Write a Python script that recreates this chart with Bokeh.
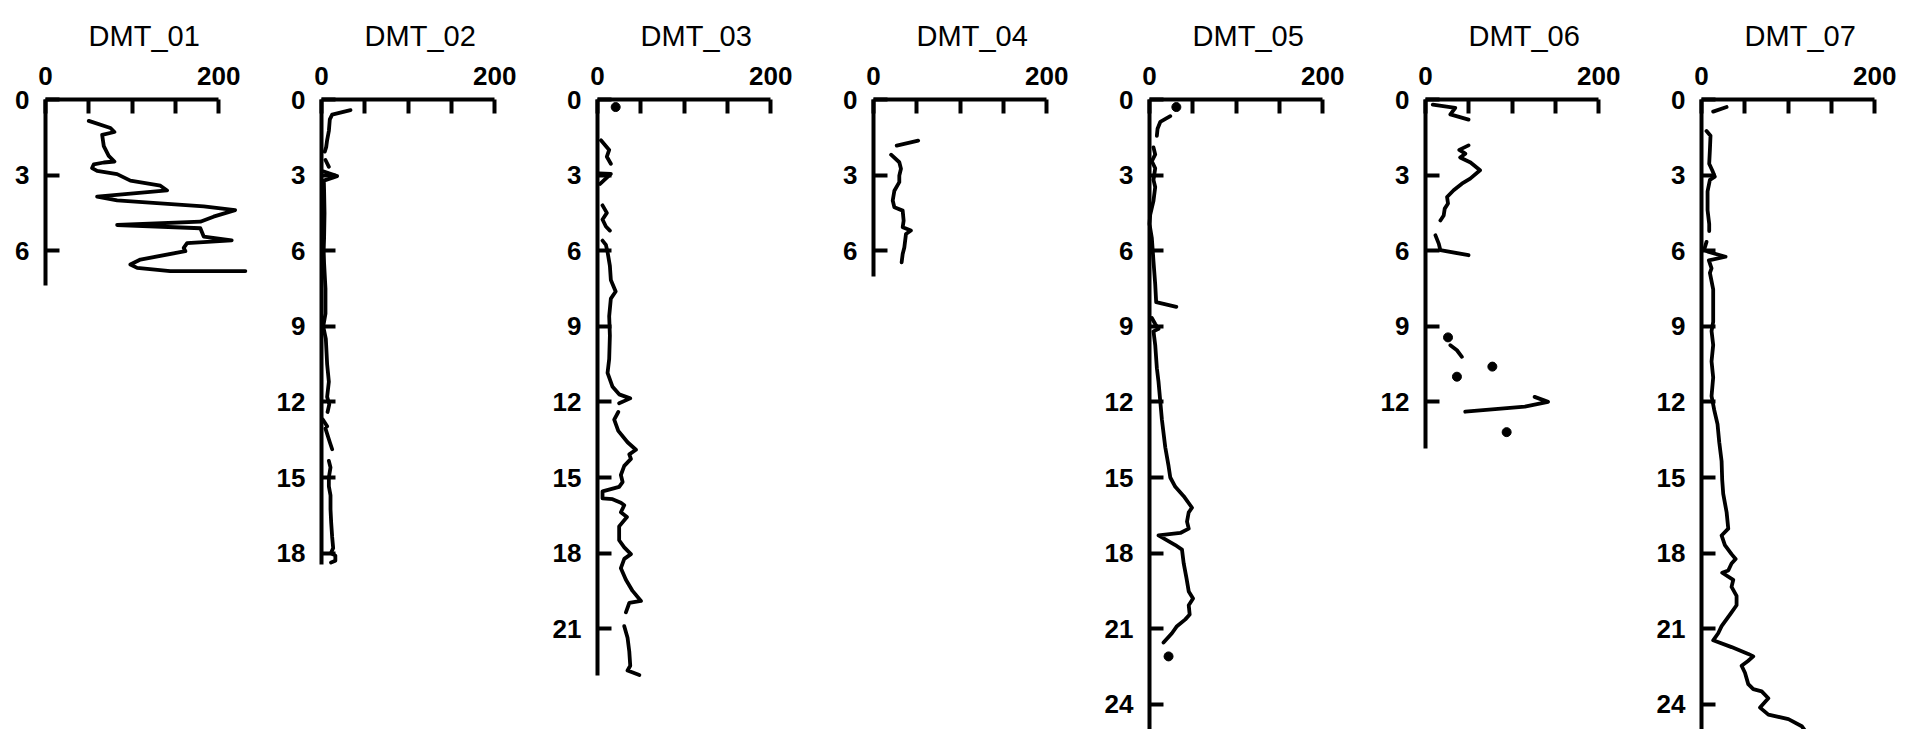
from bokeh.plotting import figure
from bokeh.models import Range1d, FixedTicker
from bokeh.layouts import row
from bokeh.core.properties import value
from bokeh.embed import file_html
from bokeh.resources import INLINE

nan = float("nan")

# ---------------- data ----------------
titles = ["DMT_01", "DMT_02", "DMT_03", "DMT_04", "DMT_05", "DMT_06", "DMT_07"]
x_ticks = [0, 50, 100, 150, 200]
x_tick_labels = {0: "0", 50: "", 100: "", 150: "", 200: "200"}
depth_ticks = [0, 3, 6, 9, 12, 15, 18, 21, 24]
axis_depth_max = [7.4, 18.46, 22.85, 7.03, 30.0, 13.84, 30.0]

depth_01 = [0.85, 1.13, 1.29, 1.40, 1.85, 2.24, 2.46, 2.50, 2.57, 2.72, 2.83, 2.96, 3.22, 3.42, 3.61,
            3.85, 4.00, 4.24, 4.39, 4.65, 4.85, 4.98, 5.11, 5.44, 5.59, 5.70, 5.89, 6.02, 6.35, 6.55,
            6.68, 6.81, 6.81]
value_01 = [50, 75, 79.6, 65.4, 67.3, 73, 79.6, 67.3, 55.8, 53.8, 59.6, 82.7, 98, 132.7, 140.4,
            59.6, 82.7, 182.7, 219, 194, 178.8, 82.7, 178.8, 182.7, 215, 163.5, 159.6, 161.5, 109.6, 98,
            105.8, 144, 230.8]
dots_depth_01 = []
dots_value_01 = []

depth_02 = [0.42, 0.6, 0.79, 1.25, 1.61, 1.89, 2.07, nan,
            2.4, 2.67, nan,
            2.86, 3.04, 3.22, 3.6, 4.5, 5.5, 6.0, 6.5, 7.5, 8.5, 9.0, 9.5, 10.5, 11.2, 11.8, 12.1, 12.4, nan,
            12.7, 12.97, nan,
            13.06, 13.6, 13.88, nan,
            14.34, 14.6, 15.0, 15.35, 15.71, 16.26, 16.8, 17.36, 17.8, 18.0, 18.1, 18.3, 18.37]
value_02 = [33.5, 12.3, 9.6, 8.5, 6.5, 5.4, 3.8, nan,
            4.6, 8.5, nan,
            2.7, 18, 2.7, 3, 3.5, 3, 2.5, 3, 4.6, 4.6, 2, 5, 6.5, 8.5, 6.5, 9, 7, nan,
            1.5, 6.5, nan,
            4.6, 9.6, 12.3, nan,
            8.5, 10.4, 8.5, 8.5, 10.4, 10.4, 11.2, 12.3, 13.5, 11, 16, 16, 11]
dots_depth_02 = []
dots_value_02 = []

depth_03 = [1.62, 2.0, 2.27, 2.55, nan,
            2.93, 2.95, 3.35, nan,
            4.2, 4.5, 4.76, 5.04, 5.2, nan,
            5.6, 5.77, 6.05, 6.6, 7.16, 7.62, 7.9, 8.6, 9.37, 10.3, 10.85, 11.4, 11.7, 11.86, 12.05, nan,
            12.4, 12.7, 13.15, 13.6, 13.9, 14.08, 14.26, 14.54, 14.9, 15.18, 15.37, 15.55, 15.83, 15.86,
            16.0, 16.1, 16.38, 16.57, 16.94, 17.49, 17.77, 18.04, 18.23, 18.6, 19.06, 19.5, 19.9, 19.98,
            20.35, nan,
            20.9, 21.36, 21.9, 22.47, 22.66, 22.84]
value_03 = [4, 13.5, 10.8, 15.4, nan,
            2, 15.4, 3, nan,
            5.8, 10.8, 5.8, 9.7, 14.3, nan,
            5.8, 9.7, 11.6, 14.3, 15.4, 21, 15.4, 13.5, 14.3, 13.5, 11.6, 17.4, 25, 37.8, 25, nan,
            24, 19.3, 24, 34.7, 44.4, 36.7, 38.6, 30.9, 27, 29, 25, 5.8, 5.8, 17.4,
            27, 30.9, 27, 34, 25, 25, 30.9, 38.6, 30.9, 27, 32.8, 40.5, 50.2, 36.7,
            32.8, nan,
            30.9, 34.7, 36.7, 37.8, 34.7, 48.3]
dots_depth_03 = [0.3]
dots_value_03 = [21]

depth_04 = [1.63, 1.83, nan,
            2.19, 2.49, 2.75, 3.02, 3.28, 3.62, 4.01, 4.28, 4.41, 4.81, 5.07, 5.2, 5.34, 5.87, 6.13, 6.46]
value_04 = [51.6, 26.8, nan,
            20.3, 29.8, 31.7, 29.8, 29.8, 24.1, 22.2, 24.1, 33.7, 34.8, 33.7, 43.2, 37.5, 35.6, 33.7, 32.5]
dots_depth_04 = []
dots_value_04 = []

depth_05 = [0.66, 0.89, 1.16, 1.44, nan,
            1.9, 2.18, 2.45, 2.73, 3.19, 3.47, 4.02, 4.58, 4.94, 5.5, 6.42, 7.34, 8.04, 8.23, nan,
            8.67, 8.91, 9.1, 9.2, 9.74, 10.66, 11.2, 11.96, 12.7, 13.8, 14.54, 15.0, 15.37, 15.74, 16.2,
            16.38, 16.75, 17.03, 17.2, 17.3, 17.68, 17.86, 18.41, 18.97, 19.52, 19.8, 20.07, 20.44, 20.63,
            20.9, 21.18, 21.55]
value_05 = [24, 12.4, 9.3, 8.5, nan,
            4.6, 6.6, 2.7, 6.6, 4.6, 6.6, 4.6, 0.8, 0, 2.7, 4.6, 6.6, 7.7, 31, nan,
            2.7, 6.6, 10.4, 4.6, 6.6, 8.5, 10.4, 12.4, 14.3, 18.2, 22, 24, 29.8, 39.5, 49.1,
            45.3, 43.3, 45.3, 35.6, 10.4, 29.8, 37.5, 39.5, 42.6, 45.3, 50.3, 45.3, 46.4, 41.4,
            31.7, 25.9, 16.2]
dots_depth_05 = [0.3, 22.1]
dots_value_05 = [31, 22]

depth_06 = [0.2, 0.33, 0.59, 0.8, nan,
            1.82, 2.0, 2.15, 2.3, 2.5, 2.81, 3.14, 3.34, 3.6, 3.87, 4.13, 4.33, 4.6, 4.8, nan,
            5.39, 5.72, 5.98, 6.18, nan,
            9.75, 9.95, 10.21, nan,
            11.8, 12.0, 12.19, 12.39]
value_06 = [8.4, 34.4, 28.7, 49.7, nan,
            49.7, 39, 46, 40, 52, 63, 51.6, 42, 32.5, 24.9, 26, 22.2, 21, 17.2, nan,
            11.5, 15.3, 17.2, 49.7, nan,
            28.7, 36.3, 42, nan,
            126, 141.5, 114.7, 45.9]
dots_depth_06 = [9.44, 10.6, 11.0, 13.2]
dots_value_06 = [26, 77.2, 36.3, 93.7]

depth_07 = [0.3, 0.48, nan,
            1.25, 1.44, 2.0, 2.55, 2.82, 3.06, 3.19, 3.65, 4.39, 4.94, 5.22, nan,
            5.65, 5.96, 6.05, 6.24, 6.38, 6.7, 6.88, 7.53, 8.08, 8.82, 9.19, 9.74, 10.39, 11.03, 11.77,
            12.32, 12.88, 13.6, 14.35, 15.09, 15.65, 16.38, 17.03, 17.3, 17.68, 18.04, 18.23, 18.41,
            18.69, 18.78, 19.06, 19.34, 19.7, 20.07, 20.35, 20.9, 21.18, 21.46, 21.73, 22.0, 22.1, 22.29,
            22.47, 22.75, 23.2, 23.4, 23.49, 23.76, 24.13, 24.41, 24.59, 24.87, 25.3]
value_07 = [29, 13.5, nan,
            5.8, 10.4, 9.7, 8.9, 12.5, 15.4, 9.7, 7, 7, 8.9, 8.9, nan,
            5.8, 3.1, 8.5, 27.8, 8.5, 11.6, 9.7, 13.5, 13.5, 13.5, 11.6, 13.5, 11.6, 13.5, 11.6,
            14.7, 18.5, 20.5, 23.2, 23.9, 25.1, 29, 30.9, 23.2, 27, 34.7, 39.4, 34.7,
            30.9, 23.9, 36.7, 34.7, 40.5, 40.5, 34.7, 23.2, 19.3, 13.5, 34.7, 54, 59.8, 53.3,
            46.3, 50.2, 54, 59.8, 69.5, 77.2, 67.6, 77.2, 100.4, 115.8, 125]
dots_depth_07 = []
dots_value_07 = []

depths = [depth_01, depth_02, depth_03, depth_04, depth_05, depth_06, depth_07]
values = [value_01, value_02, value_03, value_04, value_05, value_06, value_07]
dot_depths = [dots_depth_01, dots_depth_02, dots_depth_03, dots_depth_04, dots_depth_05, dots_depth_06, dots_depth_07]
dot_values = [dots_value_01, dots_value_02, dots_value_03, dots_value_04, dots_value_05, dots_value_06, dots_value_07]

# ---------------- layout / style ----------------
FONT = "Liberation Sans"
H = 729
TOP = 99              # page y of the top axis line (depth 0)
PX_PER_UNIT = 0.866
PX_PER_M = 25.2
TITLE_X = 114         # data x where the title is centred
TITLE_BASELINE = 35   # page y of the title baseline
axis_x = [45, 321, 597, 873, 1149, 1425, 1701]     # page x of each depth axis
lefts = [45, 49, 49, 49, 49, 49, 49]               # room left of each depth axis
starts = [axis_x[i] - lefts[i] for i in range(7)]
widths = [(starts[i + 1] if i < 6 else 1916) - starts[i] for i in range(7)]

panels = []
for i in range(7):
    W = widths[i]
    LEFT = lefts[i]
    # the frame fills the whole panel; the axes are pinned at value 0 / depth 0
    xr = Range1d(-LEFT / PX_PER_UNIT, (W - LEFT) / PX_PER_UNIT)
    yr = Range1d((H - TOP) / PX_PER_M, -TOP / PX_PER_M)
    p = figure(width=W, height=H, x_range=xr, y_range=yr, title=None,
               x_axis_location="above", y_axis_location="left",
               output_backend="svg", toolbar_location=None, tools="",
               min_border_left=0, min_border_right=0, min_border_top=0, min_border_bottom=0)
    p.grid.visible = False
    p.outline_line_color = None
    p.background_fill_color = "white"
    p.border_fill_color = "white"

    xa = p.xaxis[0]
    xa.fixed_location = 0
    xa.ticker = FixedTicker(ticks=x_ticks, minor_ticks=[])
    xa.major_label_overrides = x_tick_labels
    xa.bounds = (0, 200)
    xa.axis_line_width = 4
    xa.axis_line_color = "black"
    xa.major_tick_line_width = 4
    xa.major_tick_line_color = "black"
    xa.major_tick_in = 14
    xa.major_tick_out = 0
    xa.minor_tick_line_color = None
    xa.major_label_standoff = 15
    xa.major_label_text_font = FONT
    xa.major_label_text_font_style = "bold"
    xa.major_label_text_font_size = "26px"
    xa.major_label_text_color = "black"

    ya = p.yaxis[0]
    ya.fixed_location = 0
    ya.ticker = FixedTicker(ticks=[d for d in depth_ticks if d <= axis_depth_max[i]], minor_ticks=[])
    ya.bounds = (0, axis_depth_max[i])
    ya.axis_line_width = 4
    ya.axis_line_color = "black"
    ya.major_tick_line_width = 4
    ya.major_tick_line_color = "black"
    ya.major_tick_in = 14
    ya.major_tick_out = 0
    ya.minor_tick_line_color = None
    ya.major_label_standoff = 16
    ya.major_label_text_font = FONT
    ya.major_label_text_font_style = "bold"
    ya.major_label_text_font_size = "26px"
    ya.major_label_text_color = "black"

    p.line(x=values[i], y=depths[i], line_width=3.8, line_color="black",
           line_join="round", line_cap="round")
    if dot_depths[i]:
        p.scatter(x=dot_values[i], y=dot_depths[i], size=9, color="black")

    p.text(x=[TITLE_X], y=[-(TOP - TITLE_BASELINE) / PX_PER_M], text=[titles[i]],
           text_font=value(FONT), text_font_size=value("29px"),
           text_color="black", text_align="center", text_baseline="alphabetic")

    panels.append(p)

layout = row(*panels, spacing=0)
open("out.html", "w").write(file_html(layout, INLINE))
